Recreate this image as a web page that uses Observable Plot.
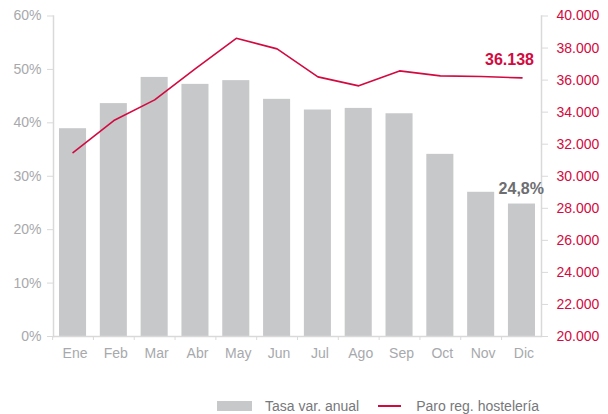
<!DOCTYPE html>
<html>
<head>
<meta charset="utf-8">
<script src="https://cdn.jsdelivr.net/npm/d3@7"></script>
<script src="https://cdn.jsdelivr.net/npm/@observablehq/plot@0.6"></script>
<style>
  html, body { margin: 0; padding: 0; background: #fff; }
  #wrap { position: relative; width: 608px; height: 414px; font-family: "Liberation Sans", Arial, sans-serif; }
  #legend { position: absolute; left: 217px; top: 398px; display: flex; align-items: center; font-size: 14px; color: #77787b; white-space: nowrap; }
  .sw { display: inline-block; width: 35px; height: 10px; background: #c7c8ca; margin-right: 13px; }
  .ln { display: inline-block; width: 23px; height: 2px; background: #d20a40; margin-left: 19px; margin-right: 15px; }
</style>
</head>
<body>
<div id="wrap">
  <div id="chart"></div>
  <div id="legend"><span class="sw"></span>Tasa var. anual<span class="ln"></span>Paro reg. hostelería</div>
</div>
<script>
const months = ["Ene","Feb","Mar","Abr","May","Jun","Jul","Ago","Sep","Oct","Nov","Dic"];
const tasa = [38.9, 43.6, 48.5, 47.2, 47.9, 44.4, 42.4, 42.7, 41.7, 34.1, 27.0, 24.8];
const paro = [31480, 33475, 34766, 36720, 38609, 37948, 36200, 35640, 36575, 36263, 36220, 36138];
const leftTicks = [0, 10, 20, 30, 40, 50, 60];
const rightTicks = [20000, 22000, 24000, 26000, 28000, 30000, 32000, 34000, 36000, 38000, 40000];

const rightMin = 20000, rightMax = 40000, leftMax = 60;
const toPct = v => (v - rightMin) / (rightMax - rightMin) * leftMax;

const data = months.map((m, i) => ({month: m, tasa: tasa[i], paro: paro[i], paroPct: toPct(paro[i])}));
const last = data[data.length - 1];

const locale = d3.formatLocale({decimal: ",", thousands: ".", grouping: [3], currency: ["", "€"]});
const fmtThousands = locale.format(",.0f");
const fmtPct = locale.format(".1f");

const axisGray = "#d9d9d9";
const labelGray = "#a7a9ac";
const red = "#d20a40";

const W = 608, mL = 53, mR = 67;
const pInner = 0.337, pOuter = 0.147;
const step = (W - mL - mR) / (months.length - pInner + 2 * pOuter);

const chart = Plot.plot({
  width: W,
  height: 390,
  marginLeft: mL,
  marginRight: mR,
  marginTop: 15.5,
  marginBottom: 54,
  style: {fontFamily: "Liberation Sans, Arial, sans-serif", fontSize: "14px", background: "#fff", overflow: "visible"},
  x: {type: "band", domain: months, paddingInner: pInner, paddingOuter: pOuter, round: false, axis: null, label: null},
  y: {domain: [0, leftMax], axis: null, label: null},
  marks: [
    Plot.barY(data, {x: "month", y: "tasa", fill: "#c7c8ca"}),
    Plot.ruleY([0], {stroke: axisGray, strokeWidth: 1.5}),
    Plot.frame({anchor: "left", stroke: axisGray, strokeWidth: 1.5}),
    Plot.frame({anchor: "right", stroke: axisGray, strokeWidth: 1.5}),
    Plot.axisY({anchor: "left", ticks: leftTicks, tickFormat: d => d + "%", tickSize: 6, tickPadding: 6, stroke: axisGray, color: labelGray, fontSize: 14, label: null}),
    Plot.axisY({anchor: "right", ticks: rightTicks.map(toPct), tickFormat: p => fmtThousands(Math.round(rightMin + p / leftMax * (rightMax - rightMin))), tickSize: 6, tickPadding: 9, stroke: axisGray, color: red, fontSize: 14, label: null}),
    Plot.axisX({anchor: "bottom", tickSize: 0, tickPadding: 12, color: labelGray, fontSize: 14, label: null, dx: 2}),
    Plot.axisX({anchor: "bottom", tickSize: 4, tickFormat: () => "", stroke: axisGray, dx: -step / 2, label: null}),
    Plot.line(data, {x: "month", y: "paroPct", stroke: red, strokeWidth: 1.6}),
    Plot.text([last], {x: "month", y: "paroPct", text: d => fmtThousands(d.paro), textAnchor: "end", dx: 12, dy: -18, fill: red, fontWeight: "bold", fontSize: 16}),
    Plot.text([last], {x: "month", y: "tasa", text: d => fmtPct(d.tasa) + "%", textAnchor: "end", dx: 22, dy: -15, fill: "#6d6e71", fontWeight: "bold", fontSize: 16})
  ]
});
document.getElementById("chart").appendChild(chart);
</script>
</body>
</html>
